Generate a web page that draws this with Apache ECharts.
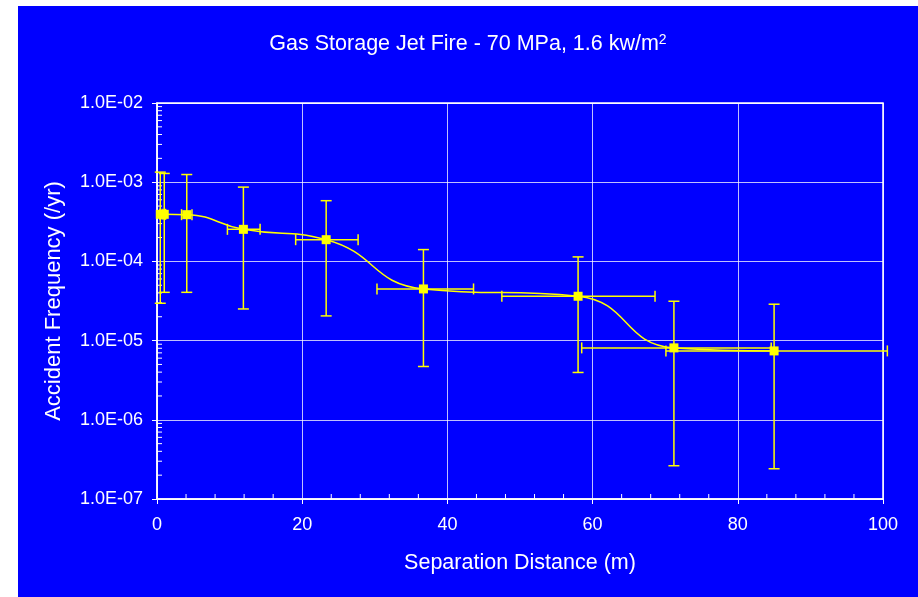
<!DOCTYPE html>
<html>
<head>
<meta charset="utf-8">
<script src="https://cdn.jsdelivr.net/npm/echarts@6/dist/echarts.min.js"></script>
<style>
  html, body { margin: 0; padding: 0; background: #ffffff; }
  #chart { position: absolute; left: 18px; top: 6px; width: 900px; height: 591px; }
</style>
</head>
<body>
<div id="chart"></div>
<script>
// Separation distance (m) of each point and its horizontal error range
const distance  = [0.45, 1.0, 4.1, 11.9, 23.3, 36.7, 58.0, 71.2, 85.0];
const distLow   = [0.38, 0.82, 3.38, 9.7, 19.1, 30.3, 47.5, 58.5, 70.1];
const distHigh  = [0.52, 1.18, 4.82, 14.2, 27.7, 43.6, 68.6, 84.6, 100.6];

// Accident frequency (/yr) and its vertical error range
const frequency = [3.93e-4, 3.93e-4, 3.89e-4, 2.54e-4, 1.88e-4, 4.49e-5, 3.63e-5, 8.09e-6, 7.41e-6];
const freqLow   = [2.96e-5, 4.07e-5, 4.07e-5, 2.51e-5, 2.05e-5, 4.71e-6, 3.96e-6, 2.63e-7, 2.41e-7];
const freqHigh  = [1.34e-3, 1.29e-3, 1.25e-3, 8.67e-4, 5.84e-4, 1.41e-4, 1.14e-4, 3.14e-5, 2.88e-5];

// Axis ranges and minor tick positions
const xMin = 0, xMax = 100, xStep = 20, xMinorStep = 4;
const yMin = 1e-7, yMax = 1e-2;
const logMinorSteps = [2, 3, 4, 5, 6, 7, 8, 9];

const yMinorTicks = [];
for (let d = yMin; d < yMax * 0.999; d *= 10) {
  logMinorSteps.forEach(m => yMinorTicks.push([xMin, d * m]));
}
const xMinorTicks = [];
for (let v = xMin + xMinorStep; v < xMax; v += xMinorStep) {
  if (v % xStep !== 0) xMinorTicks.push([v, yMin]);
}

const YELLOW = '#FFFF00';
const WHITE = '#FFFFFF';
const FONT = '"Liberation Sans", Arial, sans-serif';

function sciLabel(v) {
  const e = Math.round(Math.log10(v));
  const m = v / Math.pow(10, e);
  return m.toFixed(1) + 'E' + (e < 0 ? '-' : '+') + String(Math.abs(e)).padStart(2, '0');
}

const chart = echarts.init(document.getElementById('chart'), null, { renderer: 'canvas' });

const option = {
  backgroundColor: '#0000FF',
  animation: false,
  title: {
    text: '{t|Gas Storage Jet Fire - 70 MPa, 1.6 kw/m}{s|2}',
    left: 'center',
    top: 22,
    textStyle: {
      fontWeight: 'normal',
      rich: {
        t: { color: WHITE, fontSize: 21.5, fontFamily: FONT, fontWeight: 'normal' },
        s: { color: WHITE, fontSize: 14, fontFamily: FONT, fontWeight: 'normal', verticalAlign: 'top' }
      }
    }
  },
  grid: {
    left: 139, top: 97, right: 35, bottom: 98,
    show: true, borderColor: WHITE, borderWidth: 1.5, backgroundColor: 'transparent'
  },
  xAxis: {
    type: 'value',
    min: xMin, max: xMax, interval: xStep,
    name: 'Separation Distance (m)',
    nameLocation: 'middle',
    nameGap: 53,
    nameTextStyle: { color: WHITE, fontSize: 21.5, fontFamily: FONT },
    axisLine: { lineStyle: { color: WHITE, width: 1.5 } },
    axisTick: { show: true, length: 5, lineStyle: { color: WHITE, width: 1 } },
    axisLabel: { color: WHITE, fontSize: 18, fontFamily: FONT, margin: 17 },
    splitLine: { show: true, lineStyle: { color: 'rgba(255,255,255,0.75)', width: 1 } }
  },
  yAxis: {
    type: 'log',
    logBase: 10,
    min: yMin, max: yMax,
    name: 'Accident Frequency (/yr)',
    nameLocation: 'middle',
    nameGap: 92,
    nameRotate: 90,
    nameTextStyle: { color: WHITE, fontSize: 22, fontFamily: FONT },
    axisLine: { show: true, lineStyle: { color: WHITE, width: 1.5 } },
    axisTick: { show: true, length: 5, lineStyle: { color: WHITE, width: 1 } },
    axisLabel: { color: WHITE, fontSize: 18, fontFamily: FONT, margin: 14, formatter: sciLabel },
    splitLine: { show: true, lineStyle: { color: 'rgba(255,255,255,0.75)', width: 1 } }
  },
  series: [
    {
      // log-scale minor ticks along the frequency axis
      type: 'custom',
      silent: true,
      data: yMinorTicks,
      renderItem: function (params, api) {
        const p = api.coord([api.value(0), api.value(1)]);
        return {
          type: 'line',
          shape: { x1: p[0], y1: p[1], x2: p[0] + 5, y2: p[1] },
          style: { stroke: WHITE, lineWidth: 1 }
        };
      }
    },
    {
      // minor ticks along the distance axis
      type: 'custom',
      silent: true,
      data: xMinorTicks,
      renderItem: function (params, api) {
        const p = api.coord([api.value(0), api.value(1)]);
        return {
          type: 'line',
          shape: { x1: p[0], y1: p[1], x2: p[0], y2: p[1] - 5 },
          style: { stroke: WHITE, lineWidth: 1 }
        };
      }
    },
    {
      // horizontal and vertical error bars
      type: 'custom',
      silent: true,
      data: distance.map((d, i) => [d, frequency[i], distLow[i], distHigh[i], freqLow[i], freqHigh[i]]),
      renderItem: function (params, api) {
        const x = api.value(0), y = api.value(1);
        const c = api.coord([x, y]);
        const left = api.coord([api.value(2), y]);
        const right = api.coord([api.value(3), y]);
        const low = api.coord([x, api.value(4)]);
        const high = api.coord([x, api.value(5)]);
        const cap = 5.5;
        const st = { stroke: YELLOW, lineWidth: 1.5 };
        const seg = (x1, y1, x2, y2) => ({ type: 'line', shape: { x1, y1, x2, y2 }, style: st });
        return {
          type: 'group',
          children: [
            seg(c[0], high[1], c[0], low[1]),
            seg(c[0] - cap, high[1], c[0] + cap, high[1]),
            seg(c[0] - cap, low[1], c[0] + cap, low[1]),
            seg(left[0], c[1], right[0], c[1]),
            seg(left[0], c[1] - cap, left[0], c[1] + cap),
            seg(right[0], c[1] - cap, right[0], c[1] + cap)
          ]
        };
      }
    },
    {
      type: 'line',
      data: distance.map((d, i) => [d, frequency[i]]),
      smooth: 0.5,
      symbol: 'rect',
      symbolSize: 9,
      lineStyle: { color: YELLOW, width: 1.5 },
      itemStyle: { color: YELLOW },
      z: 5
    }
  ]
};

chart.setOption(option);
</script>
</body>
</html>
